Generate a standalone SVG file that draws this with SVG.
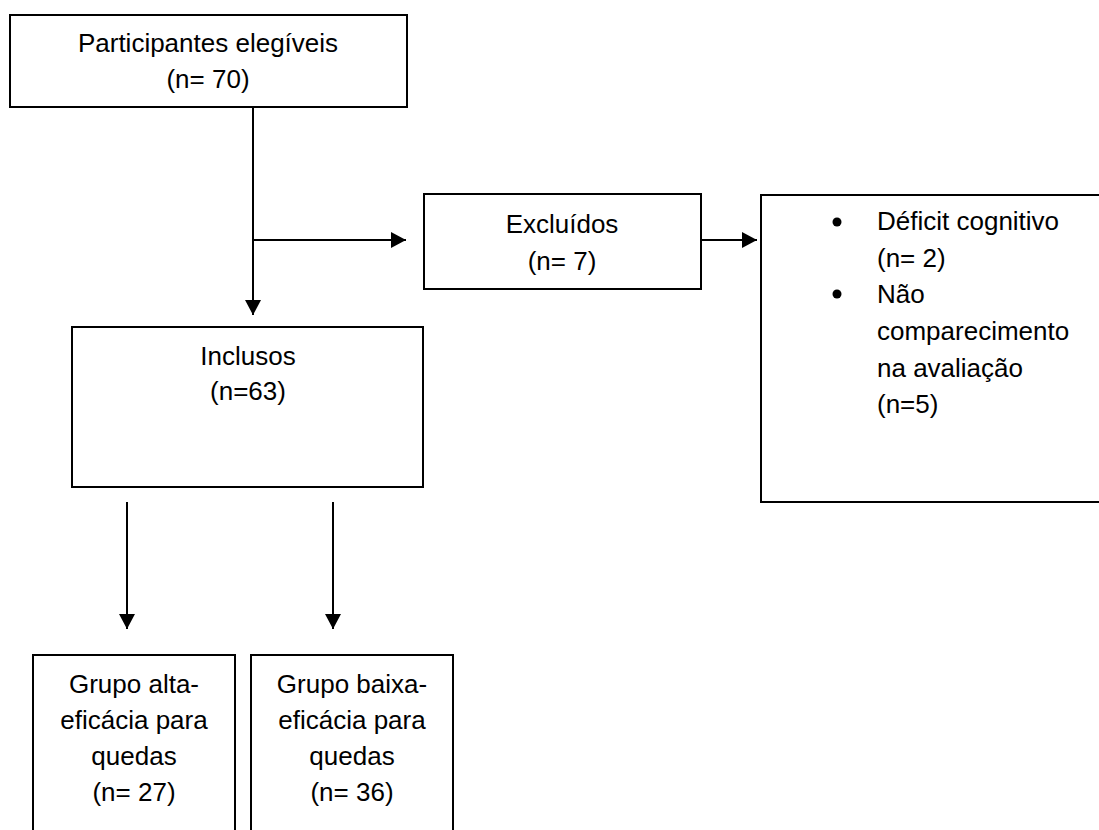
<svg xmlns="http://www.w3.org/2000/svg" width="1099" height="830" viewBox="0 0 1099 830">
<style>
.box{fill:#fff;stroke:#000;stroke-width:2}
.t{font-family:"Liberation Sans",Arial,sans-serif;font-size:26px;fill:#000;text-anchor:middle}
.l{font-family:"Liberation Sans",Arial,sans-serif;font-size:26px;fill:#000}
.c{fill:none;stroke:#000;stroke-width:2}
</style>
<defs>
<marker id="ah" markerUnits="userSpaceOnUse" markerWidth="15" markerHeight="16" refX="15" refY="8" orient="auto" viewBox="0 0 15 16">
<path d="M0,0 L15,8 L0,16 z" fill="#000"/>
</marker>
</defs>
<rect width="1099" height="830" fill="#fff"/>
<g id="connectors">
<path class="c" d="M253,107 L253,315" marker-end="url(#ah)"/>
<path class="c" d="M253,240 L406,240" marker-end="url(#ah)"/>
<path class="c" d="M701,240 L757,240" marker-end="url(#ah)"/>
<path class="c" d="M127,502 L127,629" marker-end="url(#ah)"/>
<path class="c" d="M333,502 L333,629" marker-end="url(#ah)"/>
</g>
<g id="elegiveis">
<rect class="box" x="10" y="15" width="397" height="92"/>
<text class="t" x="208" y="52">Participantes elegíveis</text>
<text class="t" x="208" y="88">(n= 70)</text>
</g>
<g id="excluidos">
<rect class="box" x="424" y="194" width="277" height="95"/>
<text class="t" x="562" y="233">Excluídos</text>
<text class="t" x="562" y="270">(n= 7)</text>
</g>
<g id="motivos">
<rect class="box" x="761" y="195" width="350" height="307"/>
<circle cx="837" cy="222" r="4.5" fill="#000"/>
<circle cx="837" cy="294" r="4.5" fill="#000"/>
<text class="l" x="877" y="230">Déficit cognitivo</text>
<text class="l" x="877" y="267">(n= 2)</text>
<text class="l" x="877" y="303">Não</text>
<text class="l" x="877" y="340">comparecimento</text>
<text class="l" x="877" y="377">na avaliação</text>
<text class="l" x="877" y="413">(n=5)</text>
</g>
<g id="inclusos">
<rect class="box" x="72" y="327" width="351" height="160"/>
<text class="t" x="248" y="365">Inclusos</text>
<text class="t" x="248" y="400">(n=63)</text>
</g>
<g id="alta">
<rect class="box" x="33" y="655" width="202" height="190"/>
<text class="t" x="134" y="693">Grupo alta-</text>
<text class="t" x="134" y="729">eficácia para</text>
<text class="t" x="134" y="765">quedas</text>
<text class="t" x="134" y="801">(n= 27)</text>
</g>
<g id="baixa">
<rect class="box" x="251" y="655" width="202" height="190"/>
<text class="t" x="352" y="693">Grupo baixa-</text>
<text class="t" x="352" y="729">eficácia para</text>
<text class="t" x="352" y="765">quedas</text>
<text class="t" x="352" y="801">(n= 36)</text>
</g>
</svg>
